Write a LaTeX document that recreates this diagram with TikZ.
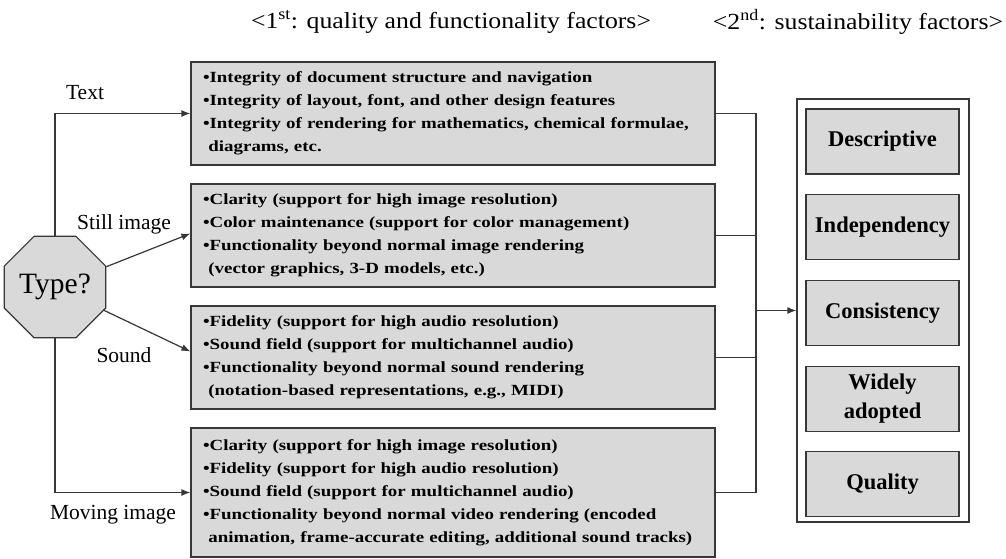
\documentclass[tikz,border=0pt]{standalone}
\usepackage{fontspec}
\setmainfont{Liberation Serif}
\newfontfamily\itemfont[FakeStretch=1.22]{Liberation Serif}
\newfontfamily\hdrfont[FakeStretch=1.12]{Liberation Serif}
\usetikzlibrary{shapes.geometric,positioning,arrows.meta}
\definecolor{boxgray}{RGB}{217,217,217}
\definecolor{linegray}{RGB}{55,55,55}

\begin{document}
\begin{tikzpicture}[x=1pt,y=-1pt,
    infobox/.style={draw=linegray,fill=boxgray,line width=1.2pt,text width=500pt,
      inner xsep=12pt,inner ysep=0pt,align=left,
      font=\itemfont\bfseries\fontsize{15.5}{23}\selectfont},
    factor/.style={draw=linegray,fill=boxgray,line width=1.2pt,minimum width=153pt,
      minimum height=65pt,align=center,font=\bfseries\fontsize{22.5}{29}\selectfont},
    lbl/.style={font=\fontsize{21.5}{24}\selectfont,inner sep=0pt},
    hdr/.style={font=\hdrfont\fontsize{23}{26}\selectfont,inner sep=0pt},
    conn/.style={draw=linegray,line width=1.2pt},
    arr/.style={conn,-{Latex[length=9pt,width=7pt]}}]
 \useasboundingbox (0,0) rectangle (1006,558);

 % headers
 \node[hdr] (hdrone) at (451,22) {<1\textsuperscript{st}: quality and functionality factors>};
 \node[hdr] (hdrtwo) at (858,22) {<2\textsuperscript{nd}: sustainability factors>};

 % decision
 \node[regular polygon,regular polygon sides=8,draw=linegray,fill=boxgray,line width=1.2pt,
   minimum size=97pt,inner sep=0pt,font=\fontsize{29.5}{31}\selectfont] (type) at (55,287) {Type?};

 % first factors
 \node[infobox,minimum height=103pt] (text) at (453,113.5)
  {•Integrity of document structure and navigation\\
   •Integrity of layout, font, and other design features\\
   •Integrity of rendering for mathematics, chemical formulae,\\
   \hspace*{0.35em}diagrams, etc.};
 \node[infobox,minimum height=103pt] (still) at (453,235.5)
  {•Clarity (support for high image resolution)\\
   •Color maintenance (support for color management)\\
   •Functionality beyond normal image rendering\\
   \hspace*{0.35em}(vector graphics, 3-D models, etc.)};
 \node[infobox,minimum height=103pt] (sound) at (453,357.5)
  {•Fidelity (support for high audio resolution)\\
   •Sound field (support for multichannel audio)\\
   •Functionality beyond normal sound rendering\\
   \hspace*{0.35em}(notation-based representations, e.g., MIDI)};
 \node[infobox,minimum height=129pt] (moving) at (453,492.5)
  {•Clarity (support for high image resolution)\\
   •Fidelity (support for high audio resolution)\\
   •Sound field (support for multichannel audio)\\
   •Functionality beyond normal video rendering (encoded\\
   \hspace*{0.35em}animation, frame-accurate editing, additional sound tracks)};

 % second factors
 \node[draw=linegray,line width=1.2pt,minimum width=172pt,minimum height=423pt] (goals) at (883,310.5) {};
 \node[factor] (desc) at (882.5,141.5) {Descriptive};
 \node[factor,below=19.5pt of desc] (indep) {Independency};
 \node[factor,below=19.5pt of indep] (consist) {Consistency};
 \node[factor,below=19.5pt of consist] (adopt) {Widely\\adopted};
 \node[factor,below=19.5pt of adopt] (qual) {Quality};

 % type labels
 \node[lbl] (lbltext) at (85,93) {Text};
 \node[lbl] (lblstill) at (124,224) {Still image};
 \node[lbl] (lblsound) at (124,355) {Sound};
 \node[lbl] (lblmoving) at (113,515) {Moving image};

 \draw[arr] (type.north) |- (text.west);
 \draw[arr] (type) -- ([yshift=2pt]still.west);
 \draw[arr] (type) -- ([yshift=6pt]sound.west);
 \draw[arr] (type.south) |- (moving.west);

 \coordinate (bus) at (756,310.5);
 \foreach \B in {text,still,sound,moving}
  \draw[conn] (\B.east) -| (bus);
 \draw[arr] (bus) -- (goals.west);

\end{tikzpicture}
\end{document}
